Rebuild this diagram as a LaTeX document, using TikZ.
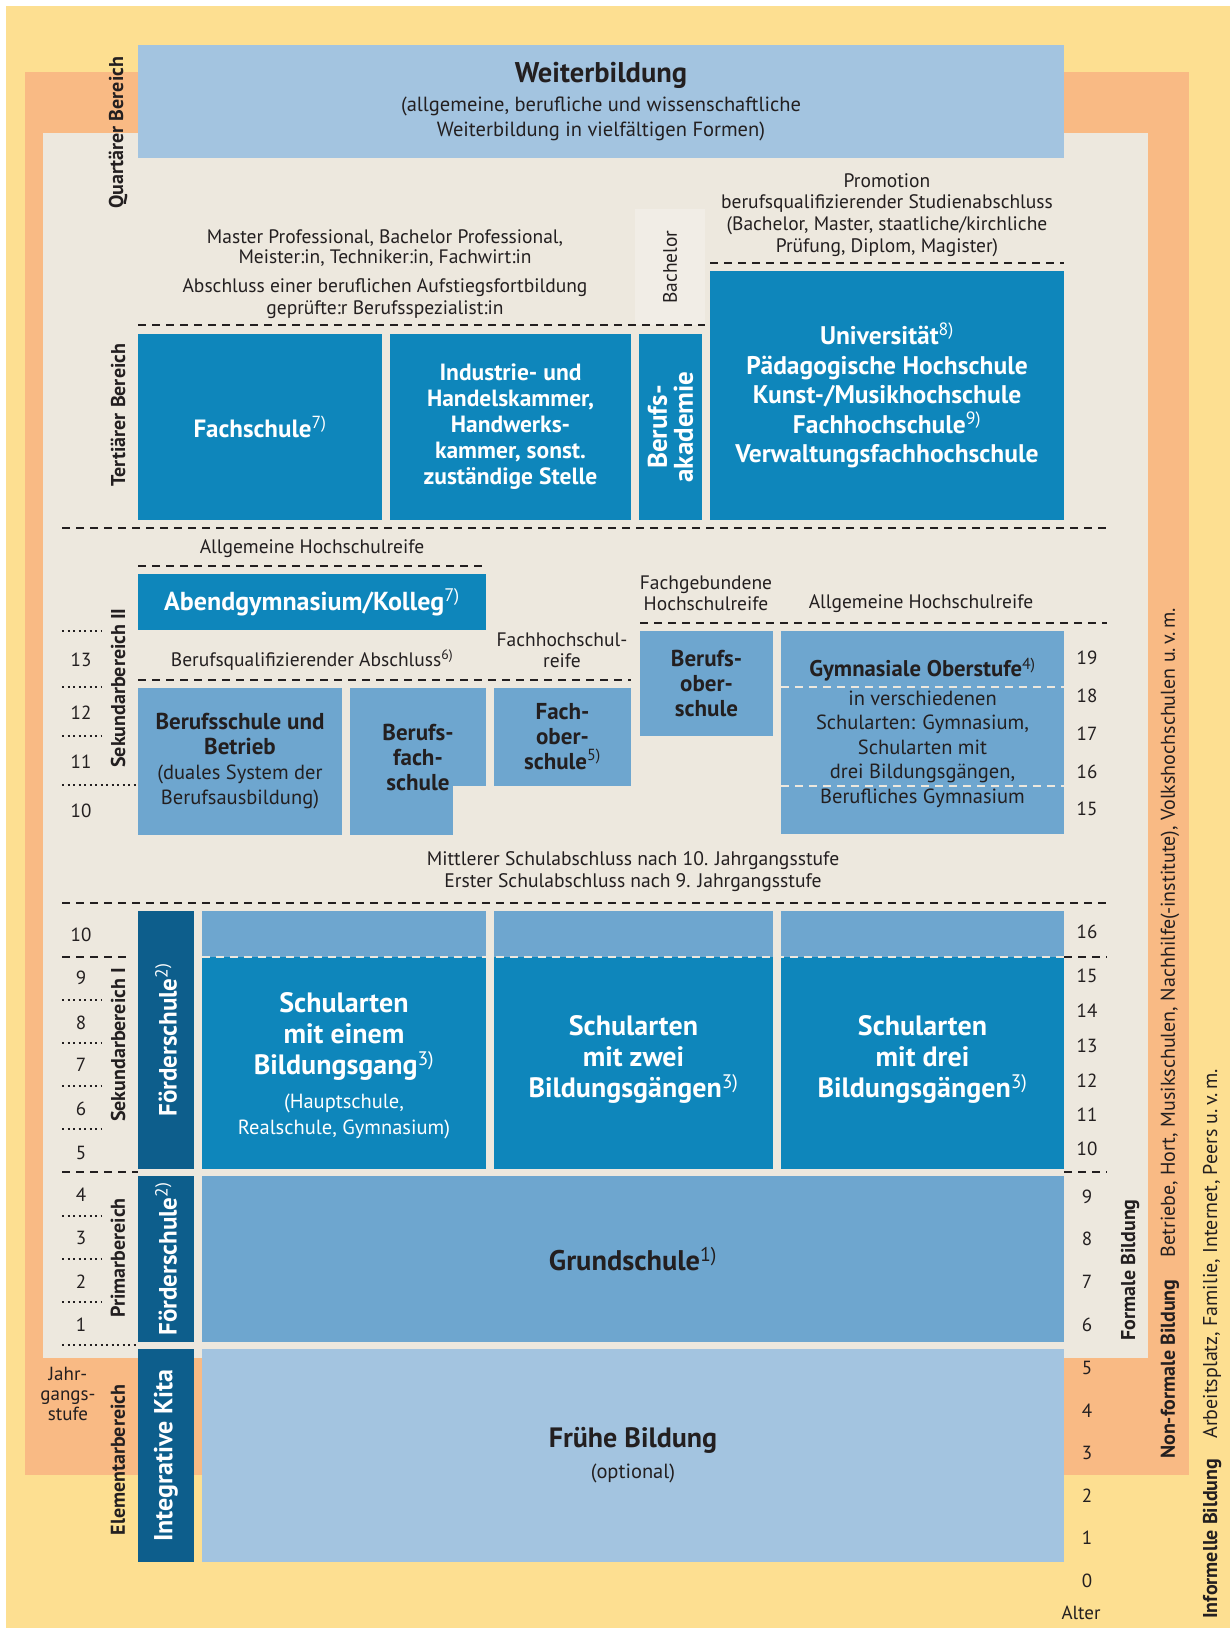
\documentclass[tikz,border=0pt]{standalone}
\usepackage{fontspec}
\setmainfont{PT Sans}
\usetikzlibrary{positioning}

\definecolor{informal}{HTML}{FDDF91}
\definecolor{nonformal}{HTML}{F9BA84}
\definecolor{formal}{HTML}{EDE8DE}
\definecolor{formallight}{HTML}{F1EDE6}
\definecolor{paleblue}{HTML}{A3C4E0}
\definecolor{midblue}{HTML}{6EA6CF}
\definecolor{strongblue}{HTML}{0E86BB}
\definecolor{deepblue}{HTML}{0D5E8C}
\definecolor{ink}{HTML}{231F20}

\newcommand{\fnote}[1]{\textsuperscript{\mdseries #1)}}
\newcommand{\fsz}[2]{\fontsize{#1}{#2}\selectfont}

\tikzset{wh/.style 2 args={minimum width=#1pt, minimum height=#2pt}}

\begin{document}
\begin{tikzpicture}[x=1pt, y=-1pt, text=ink]
    % Styles
    \tikzstyle{box} = [anchor=north west, inner sep=0pt, outer sep=0pt, align=center]
    \tikzstyle{darkbox} = [box, text=white, font=\bfseries\fsz{25}{27}]
    \tikzstyle{lightbox} = [box, fill=midblue, font=\bfseries\fsz{23}{25}]
    \tikzstyle{label} = [align=center, inner sep=0pt, font=\fsz{19.5}{21}]
    \tikzstyle{sector} = [rotate=90, inner sep=0pt, font=\bfseries\fsz{20}{22}]
    \tikzstyle{sideblock} = [rotate=90, inner sep=0pt, text=white, font=\bfseries\fsz{25}{26}, align=center]
    \tikzstyle{num} = [inner sep=0pt, font=\fsz{19}{20}]
    \tikzstyle{sep} = [draw=ink, line width=1.5pt, dash pattern=on 8pt off 6pt]
    \tikzstyle{lightsep} = [draw=formal, line width=1.5pt, dash pattern=on 8pt off 6pt]
    \tikzstyle{dotrow} = [draw=ink, line width=2pt, dash pattern=on 2pt off 3.5pt]

    % Background layers
    \fill[white] (0,0) rectangle (1230,1628);
    \useasboundingbox (0,0) rectangle (1230,1628);
    \node[box, fill=informal, wh={1224}{1622}] (informell) at (6,6) {};
    \node[box, fill=nonformal, wh={1164}{1403}] (nonformell) at (25,72) {};
    \node[box, fill=formal, wh={1105}{1225}] (formell) at (43,133) {};

    % Quartaerer Bereich
    \node[box, fill=paleblue, wh={926}{113}, font=\bfseries\fsz{28.5}{31}] (weiter) at (138,45)
        {Weiterbildung\\[-2pt]{\mdseries\fsz{20.5}{25}(allgemeine, berufliche und wissenschaftliche}\\[-6pt]{\mdseries\fsz{20.5}{25}Weiterbildung in vielfältigen Formen)}};

    % Tertiaerer Bereich
    \node[box, fill=formallight, wh={70}{116}] (bachelor) at (635,209) {};
    \node[label, rotate=90] (bachelor-t) at (bachelor.center) {Bachelor};
    \node[label, font=\fsz{19.5}{21.7}] (promotion) at (887,215) {Promotion\\berufsqualifizierender Studienabschluss\\(Bachelor, Master, staatliche/kirchliche\\Prüfung, Diplom, Magister)};
    \node[label, font=\fsz{19.5}{20.5}] (master) at (385,248) {Master Professional, Bachelor Professional,\\Meister:in, Techniker:in, Fachwirt:in};
    \node[label, font=\fsz{19.5}{21.5}] (aufstieg) at (385,298.5) {Abschluss einer beruflichen Aufstiegsfortbildung\\geprüfte:r Berufsspezialist:in};

    \node[darkbox, fill=strongblue, wh={244}{186}] (fachschule) at (138,334) {Fachschule\fnote{7}};
    \node[darkbox, fill=strongblue, wh={241}{186}, font=\bfseries\fsz{23.5}{26}] (kammer) at (390,334)
        {Industrie- und\\Handelskammer,\\Handwerks-\\kammer, sonst.\\zuständige Stelle};
    \node[darkbox, fill=strongblue, wh={63}{186}] (akademie) at (639,334) {};
    \node[sideblock, font=\bfseries\fsz{27}{26}] (akademie-t) at (akademie.center) {Berufs-\\akademie};
    \node[darkbox, fill=strongblue, wh={354}{249}, font=\bfseries\fsz{25.5}{29.5}] (hochschule) at (710,271)
        {Universität\fnote{8}\\Pädagogische Hochschule\\Kunst-/Musikhochschule\\Fachhochschule\fnote{9}\\Verwaltungsfachhochschule};

    \draw[sep] (138,325) -- (705,325);
    \draw[sep] (710,263) -- (1064,263);
    \draw[sep] (62,528) -- (1107,528);

    % Sekundarbereich II
    \node[label] (ahr-links) at (312,549) {Allgemeine Hochschulreife};
    \draw[sep] (138,566) -- (486,566);
    \node[darkbox, fill=strongblue, wh={348}{56}, font=\bfseries\fsz{26}{27}] (abendgym) at (138,574) {Abendgymnasium/Kolleg\fnote{7}};
    \node[label] (berufsabschluss) at (312,660) {Berufsqualifizierender Abschluss\fnote{6}};
    \node[label, font=\fsz{19.5}{21}] (fhr) at (562,650) {Fachhochschul-\\reife};
    \node[label, font=\fsz{19.5}{21}] (fgh) at (706,593) {Fachgebundene\\Hochschulreife};
    \node[label] (ahr-rechts) at (921,604) {Allgemeine Hochschulreife};
    \draw[sep] (138,680) -- (631,680);
    \draw[sep] (640,623) -- (1107,623);

    \node[lightbox, wh={204}{147}] (berufsschule) at (138,688)
        {Berufsschule und\\Betrieb\\{\mdseries\fsz{20.5}{25}(duales System der}\\{\mdseries\fsz{20.5}{25}Berufsausbildung)}};
    \node[lightbox, wh={136}{98}] (berufsfach) at (350,688) {};
    \fill[midblue] (350,786) rectangle (453,835);
    \node[align=center, inner sep=0pt, font=\bfseries\fsz{23}{25}] (berufsfach-t) at (418,757) {Berufs-\\fach-\\schule};
    \node[lightbox, wh={137}{98}] (fachober) at (494,688) {Fach-\\ober-\\schule\fnote{5}};
    \node[lightbox, wh={133}{105}] (berufsober) at (640,631) {Berufs-\\ober-\\schule};
    \node[lightbox, wh={283}{203}, font=\bfseries\fsz{22.7}{24.5}] (oberstufe) at (781,631)
        {Gymnasiale Oberstufe\fnote{4}\\[4pt]{\mdseries\fsz{20.5}{24.5}in verschiedenen}\\{\mdseries\fsz{20.5}{24.5}Schularten: Gymnasium,}\\{\mdseries\fsz{20.5}{24.5}Schularten mit}\\{\mdseries\fsz{20.5}{24.5}drei Bildungsgängen,}\\{\mdseries\fsz{20.5}{24.5}Berufliches Gymnasium}};
    \draw[lightsep] (781,687) -- (1064,687);
    \draw[lightsep] (781,786) -- (1064,786);

    \node[label, font=\fsz{19.6}{22}] (abschluss) at (633,872) {Mittlerer Schulabschluss nach 10. Jahrgangsstufe\\Erster Schulabschluss nach 9. Jahrgangsstufe};
    \draw[sep] (62,903) -- (1107,903);

    % Sekundarbereich I
    \node[box, fill=deepblue, wh={56}{258}] (foerder-s) at (138,911) {};
    \node[sideblock] (foerder-s-t) at (foerder-s.center) {Förderschule\fnote{2}};
    \foreach \name/\x/\w/\dy/\txt in {einem/202/284/-3/{Schularten\\mit einem\\Bildungsgang\fnote{3}\\[3pt]{\mdseries\fsz{20.5}{31}(Hauptschule,}\\[-5pt]{\mdseries\fsz{20.5}{31}Realschule, Gymnasium)}},
                                       zwei/494/279/4/{Schularten\\mit zwei\\Bildungsgängen\fnote{3}},
                                       drei/781/283/4/{Schularten\\mit drei\\Bildungsgängen\fnote{3}}} {
        \node[box, fill=midblue, wh={\w}{258}] (\name) at (\x,911) {};
        \node[box, fill=strongblue, wh={\w}{212}] (\name-t) at (\x,957) {};
        \node[align=center, inner sep=0pt, text=white, font=\bfseries\fsz{28}{31}, yshift=\dy pt] (\name-txt) at (\name-t.center) {\txt};
    }
    \draw[lightsep] (202,957) -- (1064,957);
    \draw[sep] (62,957) -- (127,957);
    \draw[sep] (1064,957) -- (1107,957);
    \draw[sep] (62,1172) -- (138,1172);
    \draw[sep] (1064,1172) -- (1107,1172);

    % Primarbereich
    \node[box, fill=deepblue, wh={56}{166}] (foerder-p) at (138,1176) {};
    \node[sideblock] (foerder-p-t) at (foerder-p.center) {Förderschule\fnote{2}};
    \node[box, fill=midblue, wh={862}{166}, font=\bfseries\fsz{28.4}{31}] (grundschule) at (202,1176) {Grundschule\fnote{1}};

    % Elementarbereich
    \node[box, fill=deepblue, wh={56}{213}] (kita) at (138,1349) {};
    \node[sideblock, font=\bfseries\fsz{26}{26}] (kita-t) at (kita.center) {Integrative Kita};
    \node[box, fill=paleblue, wh={862}{213}, font=\bfseries\fsz{28}{31}] (fruehe) at (202,1349) {Frühe Bildung\\{\mdseries\fsz{20.5}{31}(optional)}};

    % Bereiche
    \node[sector] (quartaer) at (118,133) {Quartärer Bereich};
    \node[sector] (tertiaer) at (118,415) {Tertiärer Bereich};
    \node[sector] (sek2) at (118,688) {Sekundarbereich II};
    \node[sector] (sek1) at (118,1045) {Sekundarbereich I};
    \node[sector] (primar) at (118,1258) {Primarbereich};
    \node[sector] (elementar) at (118,1460) {Elementarbereich};
    \node[label, font=\fsz{19}{20}] (jahrgang) at (68,1394) {Jahr-\\gangs-\\stufe};

    \node[sector] (formal-l) at (1130,1270) {Formale Bildung};
    \node[sector, anchor=west] (nonformal-l) at (1170,1459) {Non-formale Bildung\hspace{22pt}{\mdseries Betriebe, Hort, Musikschulen, Nachhilfe(-institute), Volkshochschulen u.\,v.\,m.}};
    \node[sector, anchor=west] (informal-l) at (1212,1619) {Informelle Bildung\hspace{20pt}{\mdseries Arbeitsplatz, Familie, Internet, Peers u.\,v.\,m.}};

    % Jahrgangsstufen and Alter
    \foreach \n/\y in {13/660, 12/713, 11/762, 10/811, 10/935, 9/978, 8/1023, 7/1065, 6/1109, 5/1153, 4/1195, 3/1238, 2/1282, 1/1325}
        \node[num] (stufe-\y) at (81,\y) {\n};
    \foreach \n/\y in {19/658, 18/696, 17/734, 16/772, 15/809, 16/932, 15/976, 14/1011, 13/1046, 12/1081, 11/1115, 10/1149,
                       9/1197, 8/1239, 7/1282, 6/1325, 5/1368, 4/1411, 3/1453, 2/1496, 1/1538, 0/1581}
        \node[num] (alter-\y) at (1087,\y) {\n};
    \node[num] (alter) at (1081,1613) {Alter};

    \foreach \y in {631, 687, 736, 1000, 1043, 1086, 1129, 1216, 1259, 1302}
        \draw[dotrow] (62,\y) -- (101,\y);
    \draw[dotrow] (62,785) -- (138,785);
    \draw[dotrow] (62,1345) -- (138,1345);

\end{tikzpicture}
\end{document}
